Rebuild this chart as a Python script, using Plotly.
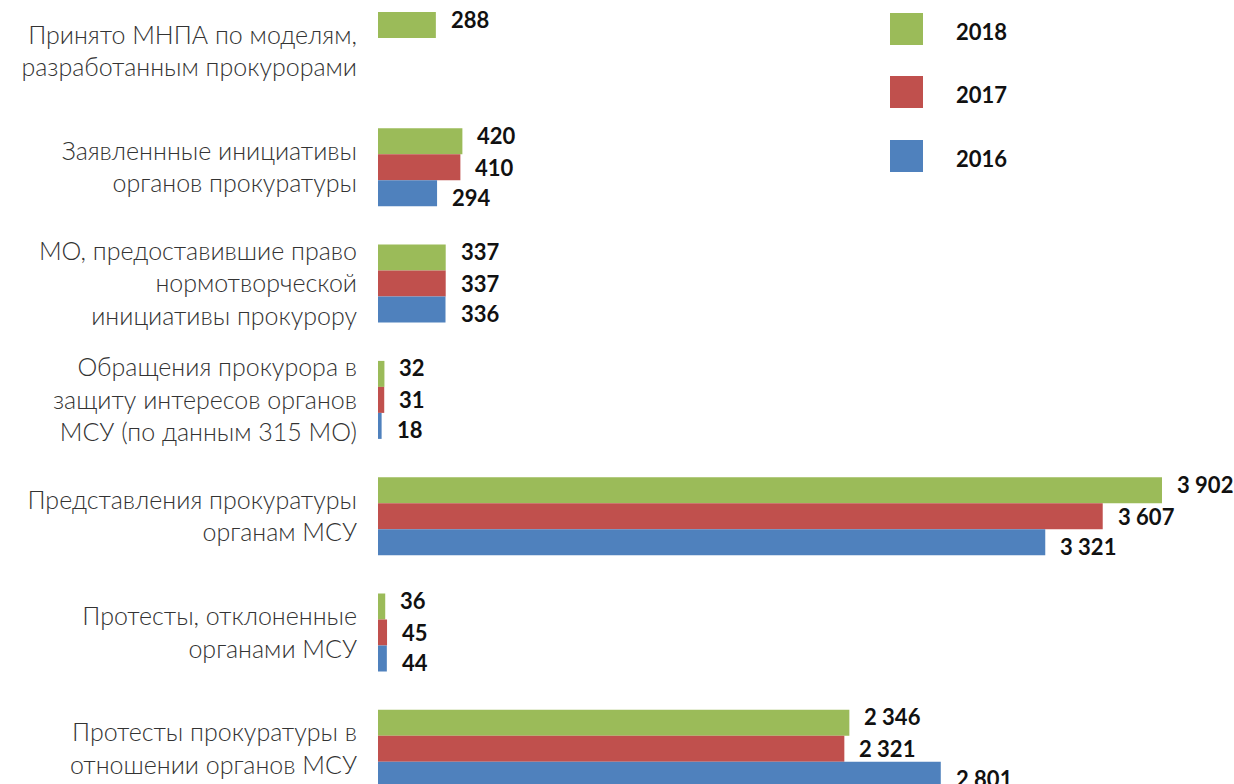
import plotly.graph_objects as go

# Category labels (top to bottom)
categories = [
    "Принято МНПА по моделям,<br>разработанным прокурорами",
    "Заявленнные инициативы<br>органов прокуратуры",
    "МО, предоставившие право<br>нормотворческой<br>инициативы прокурору",
    "Обращения прокурора в<br>защиту интересов органов<br>МСУ (по данным 315 МО)",
    "Представления прокуратуры<br>органам МСУ",
    "Протесты, отклоненные<br>органами МСУ",
    "Протесты прокуратуры в<br>отношении органов МСУ",
]

years = ["2018", "2017", "2016"]
values_2018 = [288, 420, 337, 32, 3902, 36, 2346]
values_2017 = [None, 410, 337, 31, 3607, 45, 2321]
values_2016 = [None, 294, 336, 18, 3321, 44, 2801]
series = [values_2018, values_2017, values_2016]
colors = ["#9BBB59", "#C0504D", "#4F81BD"]

W, H = 1234, 784
LEFT = 378
PX_PER_UNIT = 0.20092
GROUP_PX = 116.3
FIRST_CENTER_PX = 51
BAR_PX = 26

bar_w = BAR_PX / GROUP_PX
offsets = [-bar_w, 0.0, bar_w]
label_shift = [32, 0, -30]

idx = list(range(len(categories)))

fig = go.Figure()
for name, vals, col, off in zip(years, series, colors, offsets):
    fig.add_trace(go.Bar(
        x=vals,
        y=[i + off for i in idx],
        width=bar_w,
        orientation="h",
        name=name,
        marker=dict(color=col, line=dict(width=0)),
        showlegend=False,
        hoverinfo="x+name",
    ))


def fmt(v):
    return f"{v:,}".replace(",", " ")


annotations = []
for vals, sh in zip(series, label_shift):
    for i, v in zip(idx, vals):
        if v is None:
            continue
        annotations.append(dict(
            x=v, y=i, xref="x", yref="y",
            text=fmt(v), showarrow=False,
            xanchor="left", yanchor="middle",
            xshift=13, yshift=sh,
            font=dict(family="Lato", size=22, color="#111111", weight=700),
        ))

# Legend: coloured squares with bold year labels
plot_w = W - LEFT
shapes = []
legend_top_px = [13, 76, 140]
for name, col, top in zip(years, colors, legend_top_px):
    shapes.append(dict(
        type="rect", xref="paper", yref="paper",
        x0=(890 - LEFT) / plot_w, x1=(923 - LEFT) / plot_w,
        y0=1 - (top + 32) / H, y1=1 - top / H,
        fillcolor=col, line=dict(width=0),
    ))
    annotations.append(dict(
        x=(954 - LEFT) / plot_w, y=1 - (top + 18) / H,
        xref="paper", yref="paper", text=name, showarrow=False,
        xanchor="left", yanchor="middle",
        font=dict(family="Lato", size=22, color="#111111", weight=700),
    ))

y_top = -FIRST_CENTER_PX / GROUP_PX
y_bottom = (H - FIRST_CENTER_PX) / GROUP_PX

fig.update_layout(
    width=W, height=H,
    margin=dict(l=LEFT, r=0, t=0, b=0),
    paper_bgcolor="white", plot_bgcolor="white",
    barmode="overlay",
    showlegend=False,
    xaxis=dict(
        range=[0, plot_w / PX_PER_UNIT],
        showgrid=False, zeroline=False, showline=False,
        showticklabels=False, ticks="",
    ),
    yaxis=dict(
        range=[y_bottom, y_top],
        tickmode="array", tickvals=idx, ticktext=categories,
        showgrid=False, zeroline=False, showline=False,
        ticks="", ticklabelstandoff=20,
        tickfont=dict(family="Lato", size=25, color="#333333", weight=300),
    ),
    shapes=shapes,
    annotations=annotations,
)

fig.write_html("out.html")
